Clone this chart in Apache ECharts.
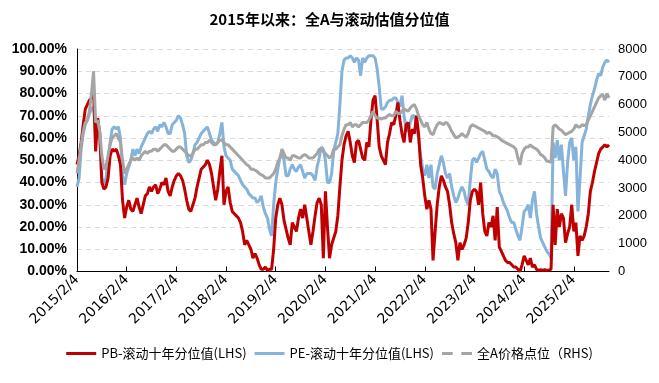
<!DOCTYPE html>
<html>
<head>
<meta charset="utf-8">
<script src="https://cdn.jsdelivr.net/npm/echarts@6/dist/echarts.min.js"></script>
<style>
html,body{margin:0;padding:0;background:#fff;}
#c{width:659px;height:383px;}
</style>
</head>
<body>
<div id="c"></div>
<script>
// Semi-monthly samples (24 per year) starting 2015/2/4
const samplesPerYear = 24;
const tickLabels = ['2015/2/4','2016/2/4','2017/2/4','2018/2/4','2019/2/4','2020/2/4','2021/2/4','2022/2/4','2023/2/4','2024/2/4','2025/2/4'];
const seriesNames = ['PB-滚动十年分位值(LHS)','PE-滚动十年分位值(LHS)','全A价格点位（RHS)'];

// PB rolling 10y percentile (%)
const pb = [48,52,58,66,73,75,77,78,82,54,69,62,40,37,38,42,52,55,54,55,52,48,32,24,29,32,28,27,30,33,
29,26,30,34,35,38,36,38,39,35,37,40,39,42,36,34,38,41,43,44,43,41,37,32,28,27,30,33,38,42,
46,47,48,50,48,44,38,32,37,45,52,30,36,38,31,27,26,25,24,22,18,12,14,12,10,6,8,6,3,1,
1,2,0.5,1,1,10,24,30,33,30,23,19,15,12,22,20,18,24,28,24,30,24,18,12,18,25,31,33,30,6,
36,20,6,12,15,18,25,38,50,57,61,63,58,52,49,58,59,55,51,50,58,56,68,77,79,68,56,52,50,48,
58,62,67,66,70,76,68,62,58,66,67,58,64,62,70,62,48,42,34,28,32,28,5,18,30,38,43,41,38,36,
30,22,17,13,5,13,10,12,15,22,32,36,37,36,30,40,26,18,16,22,20,25,14,29,11,9,7,5,4,4,
3,2,2,1,0,3,7,5,3,6,2,3,1,0.5,0.8,0.5,0.8,0.5,0.7,1,30,12,28,20,26,24,13,17,20,30,
18,22,7,16,14,16,20,26,36,40,45,49,53,55,56,57,56,57];

// PE rolling 10y percentile (%)
const pe = [38,42,55,62,66,68,71,73,74,62,66,60,42,39,42,50,58,64,65,64,65,60,43,39,44,47,50,55,52,55,
53,56,58,60,62,63,62,64,65,63,66,65,67,65,62,62,66,67,68,70,69,66,62,52,49,50,53,57,58,60,
62,63,64,65,62,59,58,57,58,62,67,56,52,51,50,46,45,44,43,41,39,38,37,35,34,33,33,31,32,34,
29,26,24,19,16,30,40,46,51,53,50,43,43,46,48,46,45,47,48,45,42,44,44,44,43,41,47,51,56,55,
50,40,40,44,54,58,62,75,90,95,96,96,97,96,94,96,95,88,96,94,96,97,97,97,96,91,83,73,73,74,
76,77,77,78,78,76,74,79,70,64,63,67,70,70,65,60,52,46,43,48,42,48,38,37,44,48,52,49,44,42,
44,38,34,31,33,36,38,36,32,30,41,50,51,49,51,53,54,50,46,45,43,42,46,44,36,34,31,29,27,24,
22,22,19,16,14,20,27,28,30,24,32,36,26,20,15,13,11,9,8,6,58,51,59,50,57,45,34,49,58,60,
50,56,27,42,58,61,64,70,75,79,82,86,89,88,92,94,95,94];

// Wind All-A index level (points)
const allA = [3520,4000,4560,5040,5360,5440,5760,6400,7200,5360,5440,5040,4160,3680,3760,4160,4560,4800,4880,4960,4800,4640,4000,3520,3680,3840,4000,4080,4000,4080,
4000,4160,4240,4320,4240,4320,4320,4400,4400,4320,4400,4480,4560,4560,4480,4400,4320,4320,4400,4480,4480,4400,4320,4240,4160,4160,4240,4400,4400,4480,
4560,4560,4640,4640,4720,4640,4560,4560,4640,4720,4720,4640,4560,4560,4480,4400,4320,4240,4160,4080,4000,3920,3840,3800,3680,3680,3640,3600,3520,3480,
3440,3360,3360,3360,3440,3520,3680,3920,4080,4400,4240,4080,4080,4000,4160,4160,4120,4080,4080,4160,4200,4160,4080,4080,4080,4160,4240,4400,4400,4320,
4240,4160,4080,4160,4400,4400,4480,4560,4880,5120,5280,5280,5360,5200,5280,5280,5200,5280,5360,5360,5360,5440,5600,5760,5600,5520,5520,5480,5520,5520,
5600,5640,5600,5600,5760,5680,5680,5760,5840,5800,5760,5880,5960,6000,5840,5600,5440,5280,5200,5360,5120,4960,4920,5120,5280,5360,5320,5280,5360,5320,
5200,5040,4920,4800,4840,4880,4960,4880,4840,4960,5200,5280,5240,5200,5160,5120,5080,5040,4960,5000,4960,4880,4880,4840,4800,4720,4680,4640,4600,4560,
4520,4480,4400,4080,3840,4240,4400,4480,4480,4560,4480,4440,4400,4320,4200,4160,4080,3960,3960,3920,5200,5280,5200,5120,5080,5000,4920,4960,5000,5040,
5120,5280,5200,5200,5280,5240,5280,5440,5600,5760,5920,6080,6240,6320,6360,6160,6400,6240];

const toXY = arr => arr.map((v, i) => [i / samplesPerYear, v]);
const xMax = (pb.length - 1) / samplesPerYear;
const tickPos = tickLabels.map((_, i) => i);

const solidIcon = 'path://M0,0L30,0L30,3L0,3Z';
const dashIcon = 'path://M0,0L10,0L10,3L0,3ZM18,0L28,0L28,3L18,3Z';

const chart = echarts.init(document.getElementById('c'), null, {renderer: 'canvas'});
chart.setOption({
  animation: false,
  backgroundColor: '#fff',
  title: {
    text: '2015年以来：全A与滚动估值分位值',
    left: 'center',
    top: 7,
    textStyle: {fontFamily: 'Noto Sans CJK SC', fontWeight: 'bold', fontSize: 15, color: '#000'}
  },
  grid: {left: 77, right: 50, top: 49, bottom: 111.5, containLabel: false},
  legend: {
    bottom: 18,
    left: 'center',
    itemGap: 8,
    itemWidth: 30,
    itemHeight: 3,
    symbolKeepAspect: false,
    itemStyle: {borderWidth: 0},
    lineStyle: {width: 0},
    textStyle: {fontFamily: 'Noto Sans CJK SC', fontSize: 13, color: '#000'},
    data: [
      {name: seriesNames[0], icon: solidIcon},
      {name: seriesNames[1], icon: solidIcon},
      {name: seriesNames[2], icon: dashIcon}
    ]
  },
  xAxis: {
    type: 'value',
    min: 0,
    max: xMax,
    axisLine: {show: true, lineStyle: {color: '#000', width: 1}},
    axisTick: {show: true, inside: true, length: 5, customValues: tickPos, lineStyle: {color: '#000'}},
    axisLabel: {
      customValues: tickPos,
      rotate: 45,
      margin: 6,
      fontFamily: 'DejaVu Sans',
      fontSize: 14,
      color: '#000',
      formatter: v => tickLabels[Math.round(v)] || ''
    },
    splitLine: {show: false}
  },
  yAxis: [
    {
      type: 'value', min: 0, max: 100, interval: 10,
      axisLine: {show: true, lineStyle: {color: '#000'}},
      axisTick: {show: false},
      axisLabel: {margin: 10, fontFamily: 'Liberation Sans', fontWeight: 'bold', fontSize: 14, color: '#000',
        formatter: v => v.toFixed(2) + '%'},
      splitLine: {show: true, lineStyle: {color: '#D9D9D9', type: [5, 4], width: 1}}
    },
    {
      type: 'value', min: 0, max: 8000, interval: 1000,
      axisLine: {show: false},
      axisTick: {show: false},
      axisLabel: {margin: 9, fontFamily: 'Liberation Sans', fontSize: 13, color: '#000',
        formatter: v => String(v)},
      splitLine: {show: false}
    }
  ],
  series: [
    {
      name: seriesNames[0], type: 'line', yAxisIndex: 0, data: toXY(pb),
      symbol: 'none', z: 3,
      lineStyle: {color: '#C00000', width: 3}, itemStyle: {color: '#C00000'}
    },
    {
      name: seriesNames[1], type: 'line', yAxisIndex: 0, data: toXY(pe),
      symbol: 'none', z: 2,
      lineStyle: {color: '#85B3D9', width: 3}, itemStyle: {color: '#85B3D9'}
    },
    {
      name: seriesNames[2], type: 'line', yAxisIndex: 1, data: toXY(allA),
      symbol: 'none', z: 4,
      lineStyle: {color: '#A5A5A5', width: 3}, itemStyle: {color: '#A5A5A5'}
    }
  ]
});
</script>
</body>
</html>
